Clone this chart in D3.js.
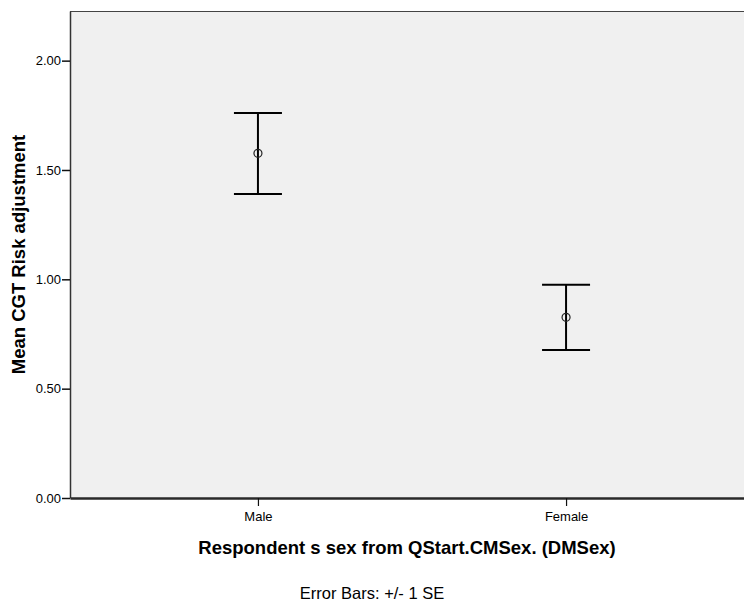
<!DOCTYPE html>
<html>
<head>
<meta charset="utf-8">
<script src="https://cdn.jsdelivr.net/npm/d3@7"></script>
<style>
    body { margin: 0; background: #fff; }
    svg { display: block; font-family: "Liberation Sans", Arial, sans-serif; }
</style>
</head>
<body>
<div id="chart"></div>
<script>
// values
const categories = ["Male", "Female"];
const means = [1.576, 0.826];
const upper = [1.761, 0.975];
const lower = [1.390, 0.677];
const yTicks = [0, 0.5, 1, 1.5, 2];

const width = 744;
const height = 604;
const plot = { left: 70, top: 11, right: 754, bottom: 498 };

const svg = d3.select("#chart")
    .append("svg")
    .attr("width", width)
    .attr("height", height);

const x = d3.scalePoint()
    .domain(categories)
    .range([plot.left, plot.right])
    .padding(0.61);

const y = d3.scaleLinear()
    .domain([0, 2.227])
    .range([plot.bottom, plot.top]);

// plot background + top frame
svg.append("rect")
    .attr("x", plot.left)
    .attr("y", plot.top)
    .attr("width", plot.right - plot.left)
    .attr("height", plot.bottom - plot.top)
    .attr("fill", "#f0f0f0");
svg.append("line")
    .attr("x1", plot.left)
    .attr("x2", plot.right)
    .attr("y1", plot.top + 0.5)
    .attr("y2", plot.top + 0.5)
    .attr("stroke", "#444")
    .attr("stroke-width", 1.2);

// y axis
const yAxis = svg.append("g")
    .attr("transform", `translate(${plot.left},0)`)
    .call(d3.axisLeft(y)
        .tickValues(yTicks)
        .tickFormat(d3.format(".2f"))
        .tickSize(8)
        .tickSizeOuter(0)
        .tickPadding(1));
yAxis.select(".domain").attr("stroke", "#333").attr("stroke-width", 1.5);
yAxis.selectAll(".tick line").attr("stroke", "#111").attr("stroke-width", 1.5);
yAxis.selectAll(".tick text")
    .attr("font-size", 13)
    .attr("fill", "#000")
    .style("font-family", "'Liberation Sans', Arial, sans-serif");

// x axis
const xAxis = svg.append("g")
    .attr("transform", `translate(0,${plot.bottom})`)
    .call(d3.axisBottom(x).tickSize(8).tickSizeOuter(0).tickPadding(6));
xAxis.select(".domain").attr("stroke", "#2a2a2a").attr("stroke-width", 2.5);
xAxis.selectAll(".tick line").attr("stroke", "#111").attr("stroke-width", 1.2);
xAxis.selectAll(".tick text")
    .attr("font-size", 13)
    .attr("fill", "#000")
    .style("font-family", "'Liberation Sans', Arial, sans-serif");

// error bars
const rows = categories.map((c, i) => ({ c, m: means[i], hi: upper[i], lo: lower[i] }));
const capHalf = 24;
const bars = svg.append("g").attr("id", "bars");

bars.selectAll("line.stem")
    .data(rows)
    .enter()
    .append("line")
    .attr("class", "stem")
    .attr("x1", (d) => x(d.c))
    .attr("x2", (d) => x(d.c))
    .attr("y1", (d) => y(d.hi))
    .attr("y2", (d) => y(d.lo))
    .attr("stroke", "#000")
    .attr("stroke-width", 2);

["hi", "lo"].forEach((k) => {
    bars.selectAll("line.cap-" + k)
        .data(rows)
        .enter()
        .append("line")
        .attr("class", "cap-" + k)
        .attr("x1", (d) => x(d.c) - capHalf)
        .attr("x2", (d) => x(d.c) + capHalf)
        .attr("y1", (d) => y(d[k]))
        .attr("y2", (d) => y(d[k]))
        .attr("stroke", "#000")
        .attr("stroke-width", 2);
});

bars.selectAll("circle")
    .data(rows)
    .enter()
    .append("circle")
    .attr("cx", (d) => x(d.c))
    .attr("cy", (d) => y(d.m))
    .attr("r", 4)
    .attr("fill", "none")
    .attr("stroke", "#222")
    .attr("stroke-width", 1.2);

// titles
svg.append("text")
    .attr("x", (plot.left + width) / 2)
    .attr("y", 554)
    .attr("text-anchor", "middle")
    .attr("font-size", 18.5)
    .attr("font-weight", "bold")
    .text("Respondent s sex from QStart.CMSex. (DMSex)");

svg.append("text")
    .attr("transform", `translate(25,${(plot.top + plot.bottom) / 2}) rotate(-90)`)
    .attr("text-anchor", "middle")
    .attr("font-size", 18.5)
    .attr("font-weight", "bold")
    .text("Mean CGT Risk adjustment");

svg.append("text")
    .attr("x", width / 2)
    .attr("y", 599)
    .attr("text-anchor", "middle")
    .attr("font-size", 16.5)
    .text("Error Bars: +/- 1 SE");
</script>
</body>
</html>
